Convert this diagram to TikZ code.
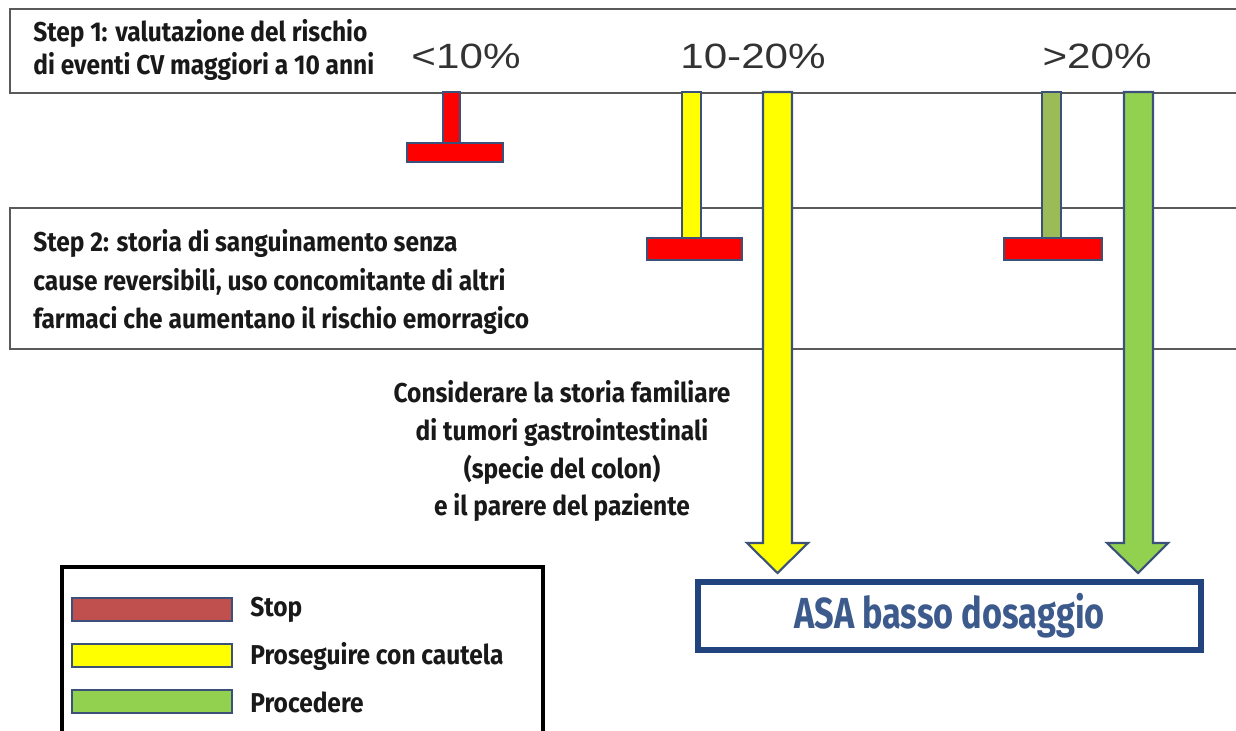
\documentclass[tikz,border=0pt]{standalone}
\usepackage{fontspec}
\usepackage{tikz}
\usetikzlibrary{positioning}
\setmainfont{Fira Sans}
\newfontfamily\condfont{Fira Sans}[FakeStretch=0.9]
\newfontfamily\asafont{Fira Sans}[FakeStretch=0.79]
\newfontfamily\pctfont{Liberation Sans}[FakeStretch=1.2]
\definecolor{boxgray}{HTML}{5A5A5A}
\definecolor{barblue}{HTML}{3B5179}
\definecolor{stopred}{HTML}{FF0000}
\definecolor{legred}{HTML}{C0504D}
\definecolor{cautyellow}{HTML}{FFFF00}
\definecolor{gogreen}{HTML}{92D050}
\definecolor{olivegreen}{HTML}{9BBB59}
\definecolor{asablue}{HTML}{22447E}
\definecolor{asatext}{HTML}{3C5A8C}
\tikzset{%
	stepbox/.style={
		draw=boxgray,
		line width=1.4pt,
		anchor=north west,
		minimum width=1300*0.02cm,
		inner sep=0pt
	},
	steptext/.style={
		anchor=west,
		align=left,
		inner sep=0pt,
		text=black!90,
		font=\condfont\bfseries\fontsize{15.5}{21.8}\selectfont
	},
	pct/.style={
		text=black!80,
		inner sep=0pt,
		font=\pctfont\fontsize{20}{24}\selectfont
	},
	bar/.style={
		draw=barblue,
		line width=1.2pt
	},
	legtext/.style={
		anchor=west,
		inner sep=0pt,
		text=black!90,
		font=\condfont\bfseries\fontsize{15.5}{18}\selectfont
	},
}

\begin{document}
\begin{tikzpicture}[x=0.02cm,y=-0.02cm]
	\clip (0,0) rectangle (1236,730);
	\fill[white] (0,0) rectangle (1236,730);
	
	% Draw the two step boxes
	\node[stepbox, minimum height=84*0.02cm] (step1) at (9,8) {};
	\node[stepbox, minimum height=141*0.02cm] (step2) at (9,207) {};
	\node[steptext, font=\condfont\bfseries\fontsize{15.5}{19.3}\selectfont] (s1text) at (33,50) {Step 1: valutazione del rischio\\di eventi CV maggiori a 10 anni};
	\node[steptext] (s2text) at (33,282) {Step 2: storia di sanguinamento senza\\cause reversibili, uso concomitante di altri\\farmaci che aumentano il rischio emorragico};
	
	% Draw risk classes
	\node[pct] (low) at (466,56) {<10\%};
	\node[pct] (mid) at (753,56) {10-20\%};
	\node[pct] (high) at (1097,56) {>20\%};
	
	% Draw the final box
	\node[draw=asablue, line width=3.4pt, minimum width=503*0.02cm, minimum height=68*0.02cm, text=asatext,
		font=\asafont\bfseries\fontsize{24.7}{30}\selectfont] (asa) at (949.5,616) {ASA basso dosaggio};
	
	% Draw the big arrows
	\draw[bar, fill=cautyellow] (763,92) -- (792,92) -- (792,543) -- (808,543) -- (777.5,573)
		-- (747,543) -- (763,543) -- cycle;
	\draw[bar, fill=gogreen] (1124,92) -- (1153,92) -- (1153,543) -- (1168,543) -- (1138,573)
		-- (1107,543) -- (1124,543) -- cycle;
	
	% Draw stop bars
	\draw[bar, fill=stopred] (443,92) rectangle (460,143);
	\draw[bar, fill=stopred] (407,143) rectangle (503,162);
	\draw[bar, fill=cautyellow] (682,92) rectangle (701,238);
	\draw[bar, fill=stopred] (647,238) rectangle (742,260);
	\draw[bar, fill=olivegreen] (1042,92) rectangle (1061,238);
	\draw[bar, fill=stopred] (1004,238) rectangle (1102,260);
	
	% Note on the yellow path
	\node[steptext, anchor=center, align=center, font=\condfont\bfseries\fontsize{15.5}{21.6}\selectfont] (note) at (562,451)
		{Considerare la storia familiare\\di tumori gastrointestinali\\(specie del colon)\\e il parere del paziente};
	
	% Draw the legend
	\draw[black, line width=2.2pt] (62,740) -- (62,567) -- (543,567) -- (543,740);
	\draw[bar, fill=legred] (72,598) rectangle (232,621);
	\draw[bar, fill=cautyellow] (72,644) rectangle (232,667);
	\draw[bar, fill=gogreen] (72,690) rectangle (232,713);
	\node[legtext] (stop) at (250,610) {Stop};
	\node[legtext] (caut) at (250,656) {Proseguire con cautela};
	\node[legtext] (go) at (250,702) {Procedere};
\end{tikzpicture}
\end{document}
